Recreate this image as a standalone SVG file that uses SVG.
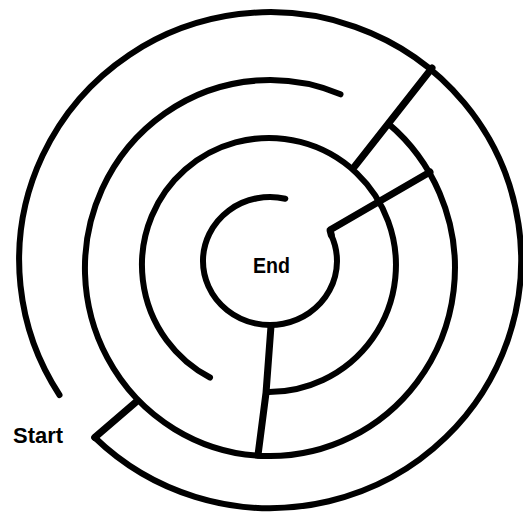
<svg xmlns="http://www.w3.org/2000/svg" width="523" height="516" viewBox="0 0 523 516">
<style>
.ring{fill:none;stroke:#000;stroke-width:6;stroke-linecap:round}
.wall{fill:none;stroke:#000;stroke-width:7;stroke-linecap:round;stroke-linejoin:round}
.lbl{font-family:"Liberation Sans",Arial,sans-serif;font-weight:bold;font-size:22px;fill:#000}
</style>
<rect width="523" height="516" fill="#fff"/>
<g id="rings">
<path id="outer" class="ring" d="M 59.5 395 A 251 248 0 1 1 94.7 437.5"/>
<path id="ring2" class="ring" d="M 388.3 123.6 A 185 188 0 1 1 340.5 94.3"/>
<path id="ring3" class="ring" d="M 267 392 A 127 127 0 1 0 210 377.5"/>
<path id="inner" class="ring" d="M 331.3 235.2 A 67 64 0 1 1 285.3 198.7"/>
</g>
<g id="walls">
<path class="wall" d="M 94.7 437.5 L 136 402"/>
<path class="wall" d="M 432 68 L 355 166"/>
<path class="wall" d="M 430 172 L 330 230 L 331.3 235"/>
<path class="wall" d="M 271 326 L 266 393 L 258 455"/>
</g>
<text class="lbl" x="253" y="273" textLength="37" lengthAdjust="spacingAndGlyphs">End</text>
<text class="lbl" x="13" y="443" textLength="50" lengthAdjust="spacingAndGlyphs">Start</text>
</svg>
